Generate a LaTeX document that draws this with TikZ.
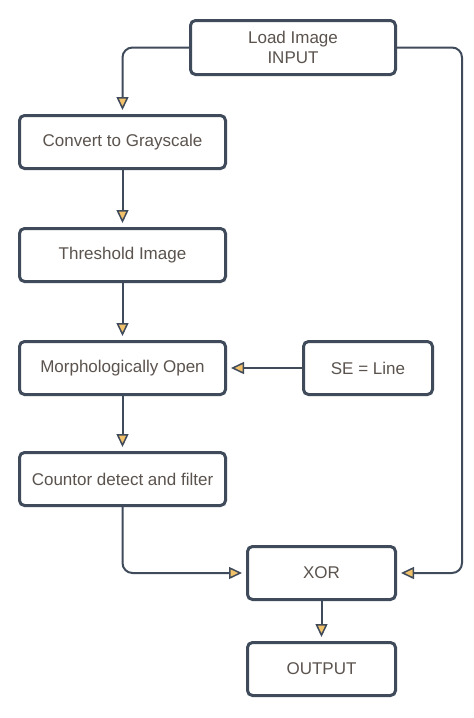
\documentclass[tikz,border=0pt]{standalone}
\usepackage{fontspec}
\setmainfont{Liberation Sans}
\usetikzlibrary{arrows.meta}
\definecolor{boxline}{HTML}{3F4A5A}
\definecolor{boxtext}{HTML}{5B534E}
\definecolor{tipfill}{HTML}{F2C26B}

\begin{document}
\begin{tikzpicture}[x=1pt,y=-1pt,
        stage/.style={draw=boxline,line width=3pt,rounded corners=5pt,fill=white,
            minimum width=206pt,minimum height=53pt,inner sep=0pt,
            text=boxtext,align=center,font=\fontsize{17}{20}\selectfont},
        link/.style={draw=boxline,line width=2pt,rounded corners=10pt,shorten >=4pt,
            -{Triangle[open,fill=tipfill,length=13pt,width=12pt,line width=1.5pt]}}]
    \useasboundingbox (0,0) rectangle (474,718);
    % boxes
    \node[stage,minimum width=205pt,minimum height=54pt] (load) at (293,47.5) {Load Image\\INPUT};
    \node[stage] (gray) at (122.5,142) {Convert to Grayscale};
    \node[stage] (thresh) at (122.5,255) {Threshold Image};
    \node[stage] (open) at (122.5,368) {Morphologically Open};
    \node[stage,minimum width=129pt] (se) at (368,368) {SE = Line};
    \node[stage] (contour) at (122.5,479) {Countor detect and filter};
    \node[stage,minimum width=148pt] (xor) at (321.5,573) {XOR};
    \node[stage,minimum width=148pt] (out) at (321.5,669) {OUTPUT};
    \coordinate (bend) at (462,47.5);
    % connectors
    \draw[link] (load.west) -| (gray.north);
    \draw[link] (load.east) -- (bend) |- (xor.east);
    \draw[link] (gray) -- (thresh);
    \draw[link] (thresh) -- (open);
    \draw[link] (se) -- (open);
    \draw[link] (open) -- (contour);
    \draw[link] (contour.south) |- (xor.west);
    \draw[link] (xor) -- (out);
\end{tikzpicture}
\end{document}
